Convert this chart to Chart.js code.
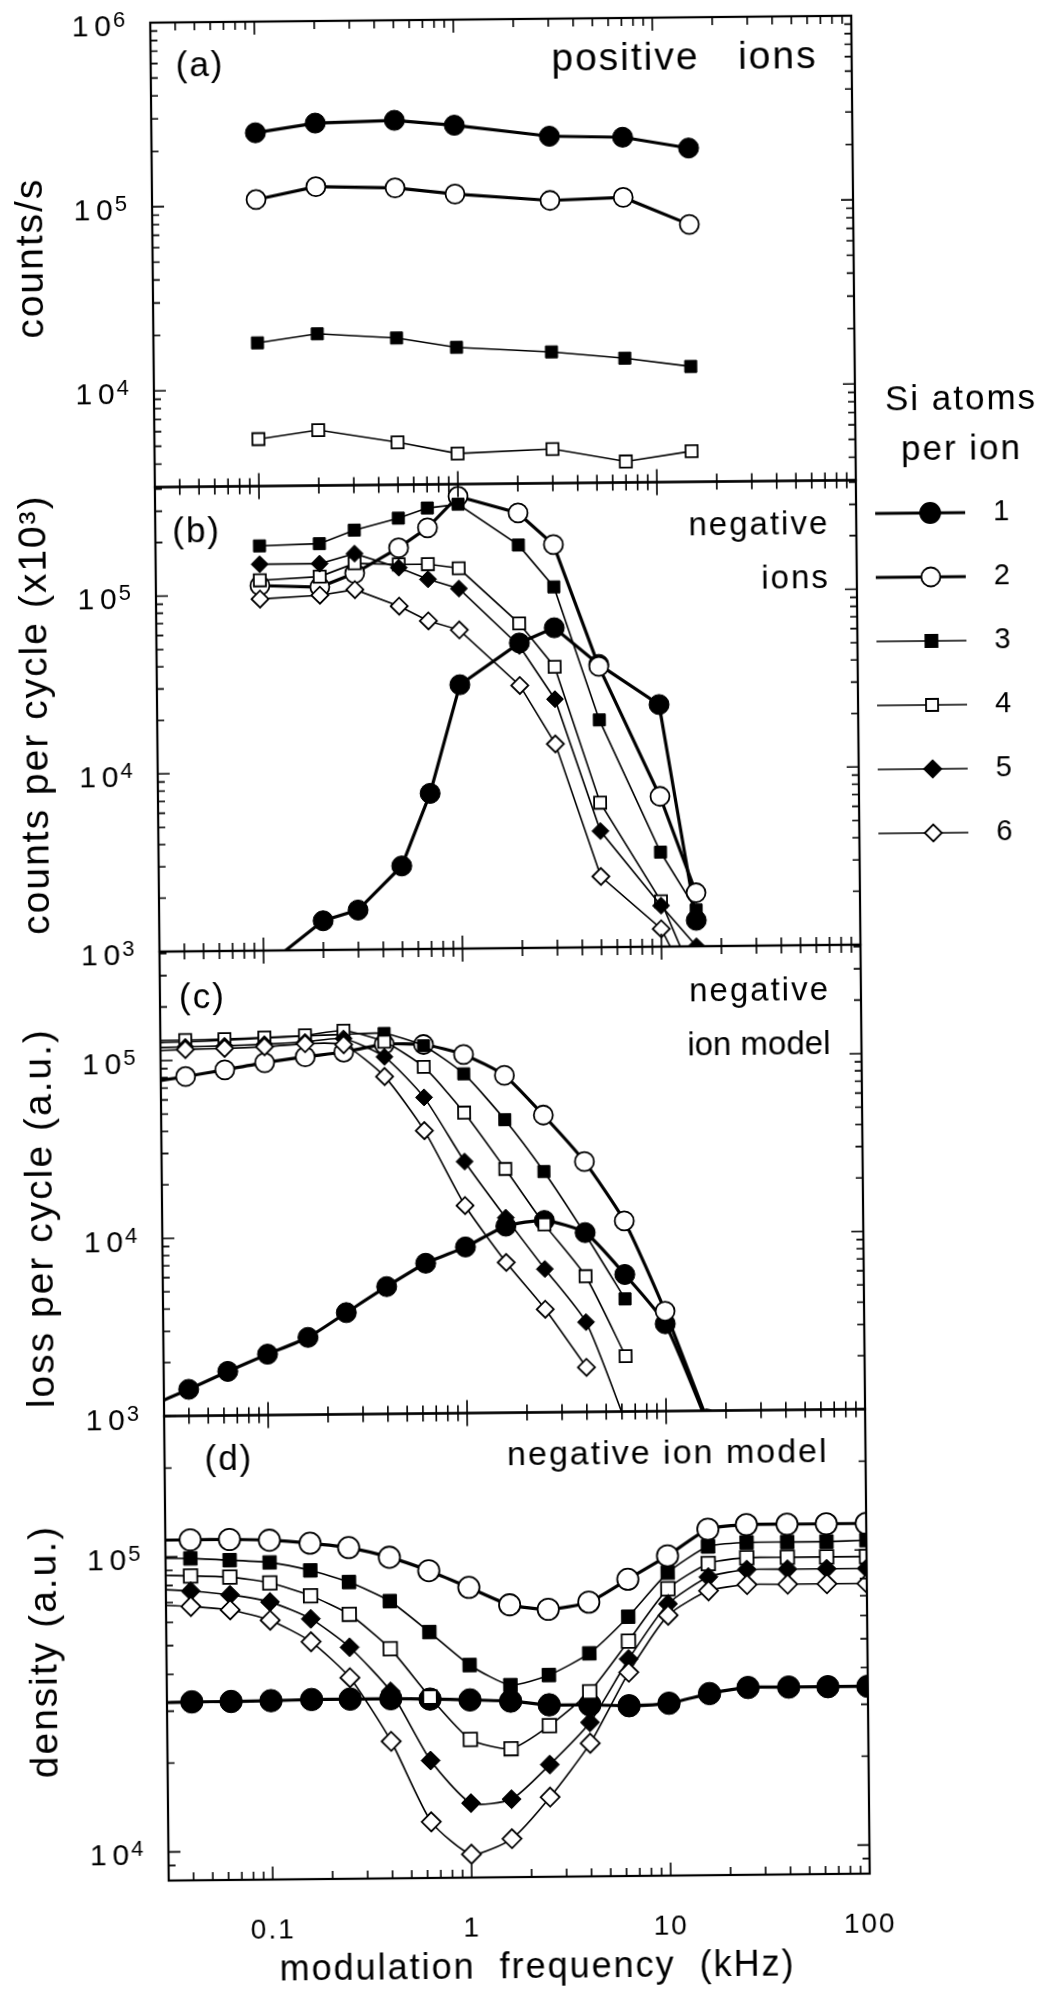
<!DOCTYPE html>
<html>
<head>
<meta charset="utf-8">
<title>Si cluster ions vs modulation frequency</title>
<script src="https://cdn.jsdelivr.net/npm/chart.js@4.4.1/dist/chart.umd.min.js"></script>
<style>
  html, body { margin: 0; padding: 0; background: #fff; overflow: hidden; }
  /* the printed figure sits a little skewed on the page */
  #wrap { position: relative; width: 1050px; height: 2002px; transform: rotate(-0.57deg); transform-origin: 525px 1001px; }
</style>
</head>
<body>
<div id="wrap"><canvas id="chart"></canvas></div>
<script>
// modulation frequency (kHz)
const freqA = [0.1, 0.2, 0.5, 1, 3, 7, 15];
const freqB = [0.1, 0.2, 0.3, 0.5, 0.7, 1, 2, 3, 5, 10, 15];
const freqModel = [0.025, 0.04, 0.063, 0.1, 0.16, 0.25, 0.4, 0.63, 1, 1.6, 2.5, 4, 6.3, 10, 16, 25, 40, 63, 100];

// (a) positive ions, counts/s - one row per number of Si atoms (1..4)
const posIons = [
  [249000, 279000, 286000, 267000, 230000, 225000, 195000],
  [108000, 126000, 123000, 113000, 103000, 106000, 75000],
  [18000, 20000, 18800, 16600, 15500, 14200, 12700],
  [5400, 6000, 5100, 4400, 4600, 3900, 4400]
];

// (b) negative ions, counts per cycle (x10^3) - Si atoms 1..6
const negIons = [
  [800, 1460, 1670, 2940, 7500, 30500, 52000, 63000, 39000, 23000, 1400],
  [113000, 110000, 131000, 181000, 234000, 350000, 280000, 185000, 38000, 7000, 2000],
  [189000, 193000, 229000, 266000, 302000, 316000, 185000, 107000, 19000, 3400, 1600],
  [121000, 126000, 149000, 146000, 146000, 138000, 67000, 38000, 6500, 1800, 600],
  [149000, 149000, 169000, 140000, 120000, 106000, 50000, 25000, 4500, 1700, 1000],
  [95000, 99000, 106000, 85000, 70000, 62000, 30000, 14000, 2500, 1260, 500]
];

// (c) negative ion model, loss per cycle (a.u.)
const modelLoss = [
  [1130, 1410, 1770, 2200, 2720, 3730, 5200, 7000, 8600, 11200, 12000, 10200, 5900, 3100, 870],
  [75000, 81000, 88000, 96000, 103000, 109000, 120000, 119000, 104000, 79000, 47000, 25600, 11800, 3650, 900],
  [126000, 127000, 129000, 132000, 135000, 137000, 138000, 117000, 81000, 44500, 22600, 10000, 4300],
  [130000, 130000, 131000, 133000, 136000, 144000, 124000, 89000, 49000, 23500, 11400, 5800, 2050],
  [118000, 119000, 120000, 122000, 125000, 130000, 102000, 60000, 26000, 12500, 6400, 3200, 850],
  [113000, 115000, 116000, 118000, 122000, 120000, 79000, 39000, 14700, 7000, 3800, 1780]
];

// (d) negative ion model, density (a.u.)
const modelDensity = [
  [32000, 32200, 32200, 32300, 32500, 32500, 32500, 32300, 32000, 31600, 30600, 30500, 30200, 30700, 33000, 34500, 34500, 34500, 34500],
  [114000, 114000, 114000, 113000, 110000, 106000, 98000, 88000, 77000, 67000, 64500, 68000, 81000, 97000, 119000, 123000, 123000, 123000, 123000],
  [99000, 98600, 97000, 95000, 89000, 81000, 69600, 54500, 42000, 35800, 38600, 45600, 60500, 85000, 104000, 107000, 107000, 107000, 108000],
  [87000, 86000, 85000, 81000, 73000, 63000, 48000, 32800, 23500, 21800, 26000, 33800, 50000, 75000, 91000, 95000, 95000, 95000, 95000],
  [78000, 76400, 74000, 69800, 61000, 48700, 34400, 20000, 14300, 14700, 19200, 26600, 43500, 66700, 82000, 86600, 86600, 86600, 86600],
  [69000, 67800, 65800, 60500, 51000, 38400, 23300, 12400, 9600, 10800, 14900, 22600, 39200, 61000, 73600, 77000, 77000, 77000, 77000]
];

// axis ticks and labels
const xTickValues = [0.1, 1, 10, 100];
const xTickLabels = ['0.1', '1', '10', '100'];
const yTickValues = [1e3, 1e4, 1e5, 1e6];
const yTickExps = ['3', '4', '5', '6'];   // labels read "10" with this exponent
const siAtoms = ['1', '2', '3', '4', '5', '6'];

const FONT = '"Liberation Sans", Arial, Helvetica, sans-serif';
Chart.defaults.font.family = FONT;
Chart.defaults.color = '#000';

const markers = [
  { style: 'circle', filled: true, r: 10, line: 3.2 },
  { style: 'circle', filled: false, r: 9.5, line: 3.2 },
  { style: 'rect', filled: true, r: 8.5, line: 1.6 },
  { style: 'rect', filled: false, r: 8.5, line: 1.6 },
  { style: 'rectRot', filled: true, r: 8.5, line: 1.6 },
  { style: 'rectRot', filled: false, r: 8.5, line: 1.6 }
];

function series(xs, rows, axis, scale, tension) {
  return rows.map((row, i) => {
    const m = markers[i];
    const pts = [];
    row.forEach((v, k) => { if (v != null) pts.push({ x: xs[k], y: v }); });
    return {
      label: siAtoms[i],
      xAxisID: 'x',
      yAxisID: axis,
      data: pts,
      order: 10 - i,
      borderColor: '#000',
      borderWidth: m.line,
      pointStyle: m.style,
      pointRadius: m.r * scale,
      pointHoverRadius: m.r * scale,
      pointBackgroundColor: m.filled ? '#000' : '#fff',
      pointBorderColor: '#000',
      pointBorderWidth: m.filled ? 1 : 1.8,
      tension: tension,
      fill: false
    };
  });
}

function yAxis(min, max, ticks, weight) {
  return {
    type: 'logarithmic',
    position: 'left',
    stack: 'panels',
    stackWeight: 1,
    weight: weight,
    min: min,
    max: max,
    grid: { display: false, drawTicks: false },
    border: { display: false },
    afterFit: s => { s.width = 160; },
    afterBuildTicks: s => { s.ticks = ticks.map(v => ({ value: v })); },
    ticks: { display: false },
    title: { display: false }
  };
}

// log-decade steps (1..9 x 10^n) inside a range, for the inward tick marks
function logSteps(min, max) {
  const out = [];
  for (let e = Math.floor(Math.log10(min)) - 1; e <= Math.ceil(Math.log10(max)); e++) {
    for (let m = 1; m <= 9; m++) {
      const v = m * Math.pow(10, e);
      if (v >= min * 0.9999 && v <= max * 1.0001) out.push({ v: v, major: m === 1 });
    }
  }
  return out;
}

const panelAxes = ['yA', 'yB', 'yC', 'yD'];

const framePlugin = {
  id: 'frames',
  afterDraw(chart) {
    const ctx = chart.ctx;
    const xs = chart.scales.x;
    ctx.save();
    ctx.strokeStyle = '#000';
    panelAxes.forEach(id => {
      const ys = chart.scales[id];
      const top = ys.top, bottom = ys.bottom, left = xs.left, right = xs.right;
      ctx.lineWidth = 1.6;
      ctx.beginPath();
      logSteps(ys.min, ys.max).forEach(t => {
        const y = ys.getPixelForValue(t.v);
        const len = t.major ? 12 : 7;
        ctx.moveTo(left, y); ctx.lineTo(left + len, y);
        ctx.moveTo(right, y); ctx.lineTo(right - len, y);
      });
      logSteps(xs.min, xs.max).forEach(t => {
        const x = xs.getPixelForValue(t.v);
        const len = t.major ? 13 : 8;
        ctx.moveTo(x, top); ctx.lineTo(x, top + len);
        ctx.moveTo(x, bottom); ctx.lineTo(x, bottom - len);
      });
      ctx.stroke();
      ctx.lineWidth = 2.2;
      ctx.strokeRect(left, top, right - left, bottom - top);
    });
    ctx.restore();
  }
};

// y labels as "10" with a raised exponent, placed on the scale's own ticks
const powerLabelPlugin = {
  id: 'powerLabels',
  afterDraw(chart) {
    const ctx = chart.ctx;
    ctx.save();
    ctx.fillStyle = '#000';
    ctx.textAlign = 'right';
    ctx.textBaseline = 'alphabetic';
    panelAxes.forEach(id => {
      const ys = chart.scales[id];
      ys.ticks.forEach(t => {
        const exp = yTickExps[yTickValues.indexOf(t.value)];
        const y = ys.getPixelForValue(t.value);
        const xr = ys.right - 25;
        ctx.letterSpacing = '0px';
        ctx.font = '22px ' + FONT;
        const wExp = ctx.measureText(exp).width;
        ctx.fillText(exp, xr, y + 4);
        ctx.letterSpacing = '6px';
        ctx.font = '30px ' + FONT;
        ctx.fillText('10', xr - wExp + 4, y + 13);
      });
    });
    ctx.restore();
  }
};

const axisTitles = [
  { axis: 'yA', text: 'counts/s', shift: 2 },
  { axis: 'yB', text: 'counts per cycle (x10³)', shift: -6 },
  { axis: 'yC', text: 'loss per cycle (a.u.)', shift: 33 },
  { axis: 'yD', text: 'density (a.u.)', shift: 2 }
];

// panel tags and captions; "tight" lines are set with less tracking
const panelNotes = [
  { axis: 'yA', tag: '(a)', tagX: 25, tagY: 54, lines: ['positive   ions'], lineY: 52, right: 34, size: 39 },
  { axis: 'yB', tag: '(b)', tagX: 17, tagY: 55, lines: ['negative', 'ions'], lineY: 53, right: 27, size: 33 },
  { axis: 'yC', tag: '(c)', tagX: 19, tagY: 57, lines: ['negative', 'ion model'], lineY: 55, right: 31, size: 33, tight: 1 },
  { axis: 'yD', tag: '(d)', tagX: 40, tagY: 54, lines: ['negative ion model'], lineY: 52, right: 37, size: 34 }
];

const textPlugin = {
  id: 'texts',
  afterDraw(chart) {
    const ctx = chart.ctx;
    const xs = chart.scales.x;
    ctx.save();
    ctx.fillStyle = '#000';
    ctx.textBaseline = 'alphabetic';
    panelNotes.forEach(n => {
      const top = chart.scales[n.axis].top;
      ctx.letterSpacing = '2px';
      ctx.font = '35px ' + FONT;
      ctx.textAlign = 'left';
      ctx.fillText(n.tag, xs.left + n.tagX, top + n.tagY);
      ctx.font = n.size + 'px ' + FONT;
      ctx.textAlign = 'right';
      n.lines.forEach((t, i) => {
        ctx.letterSpacing = (n.tight === i) ? '0px' : '2px';
        ctx.fillText(t, xs.right - n.right, top + n.lineY + i * 54);
      });
    });
    // rotated y axis titles
    ctx.letterSpacing = '2px';
    ctx.font = '39px ' + FONT;
    ctx.textAlign = 'center';
    axisTitles.forEach(a => {
      const ys = chart.scales[a.axis];
      ctx.save();
      ctx.translate(50, (ys.top + ys.bottom) / 2 + a.shift);
      ctx.rotate(-Math.PI / 2);
      ctx.fillText(a.text, 0, 0);
      ctx.restore();
    });
    // x axis title
    ctx.font = '36px ' + FONT;
    ctx.textBaseline = 'middle';
    ctx.fillText('modulation  frequency  (kHz)', 528, 1968);
    ctx.restore();
  }
};

function drawMarker(ctx, m, x, y, r) {
  ctx.beginPath();
  if (m.style === 'circle') {
    ctx.arc(x, y, r, 0, Math.PI * 2);
  } else if (m.style === 'rect') {
    const h = r * Math.SQRT1_2;
    ctx.rect(x - h, y - h, 2 * h, 2 * h);
  } else {
    ctx.moveTo(x - r, y); ctx.lineTo(x, y - r); ctx.lineTo(x + r, y); ctx.lineTo(x, y + r); ctx.closePath();
  }
  ctx.fillStyle = m.filled ? '#000' : '#fff';
  ctx.fill();
  ctx.lineWidth = 1.8;
  ctx.stroke();
}

const legendPlugin = {
  id: 'siLegend',
  afterDraw(chart) {
    const ctx = chart.ctx;
    ctx.save();
    ctx.strokeStyle = '#000';
    ctx.fillStyle = '#000';
    ctx.letterSpacing = '2px';
    ctx.font = '35px ' + FONT;
    ctx.textAlign = 'center';
    ctx.textBaseline = 'middle';
    ctx.fillText('Si atoms', 967, 404);
    ctx.fillText('per ion', 967, 454);
    ctx.font = '29px ' + FONT;
    siAtoms.forEach((lab, i) => {
      const y = 517 + i * 64;
      const m = markers[i];
      ctx.lineWidth = m.line;
      ctx.beginPath(); ctx.moveTo(880, y); ctx.lineTo(970, y); ctx.stroke();
      drawMarker(ctx, m, 935, y, m.r);
      ctx.fillStyle = '#000';
      ctx.textAlign = 'left';
      ctx.fillText(lab, 998, y);
    });
    ctx.restore();
  }
};

const spacingPlugin = {
  id: 'spacing',
  beforeDraw(chart) { chart.ctx.letterSpacing = '2px'; }
};

const chart = new Chart(document.getElementById('chart').getContext('2d'), {
  type: 'line',
  data: {
    datasets: [
      ...series(freqA, posIons, 'yA', 1, 0),
      ...series(freqB, negIons, 'yB', 1, 0),
      ...series(freqModel, modelLoss, 'yC', 1, 0.2),
      ...series(freqModel, modelDensity, 'yD', 1.12, 0.2)
    ]
  },
  options: {
    responsive: true,
    maintainAspectRatio: false,
    animation: false,
    events: [],
    layout: { padding: { left: 0, right: 189, top: 19, bottom: 0 } },
    plugins: {
      legend: { display: false },
      tooltip: { enabled: false }
    },
    scales: {
      x: {
        type: 'logarithmic',
        position: 'bottom',
        min: 0.03,
        max: 100,
        grid: { display: false, drawTicks: false },
        border: { display: false },
        afterFit: s => { s.height = 125; },
        afterBuildTicks: s => { s.ticks = xTickValues.map(v => ({ value: v })); },
        ticks: {
          autoSkip: false,
          maxRotation: 0,
          padding: 34,
          font: { size: 28 },
          color: '#000',
          callback: v => xTickLabels[xTickValues.indexOf(v)]
        },
        title: { display: false }
      },
      yA: yAxis(3000, 1e6, [1e4, 1e5, 1e6], 4),
      yB: yAxis(1000, 4.1e5, [1e3, 1e4, 1e5], 3),
      yC: yAxis(1000, 4.1e5, [1e3, 1e4, 1e5], 2),
      yD: yAxis(8000, 3e5, [1e4, 1e5], 1)
    }
  },
  plugins: [spacingPlugin, framePlugin, powerLabelPlugin, textPlugin, legendPlugin]
});
</script>
</body>
</html>
